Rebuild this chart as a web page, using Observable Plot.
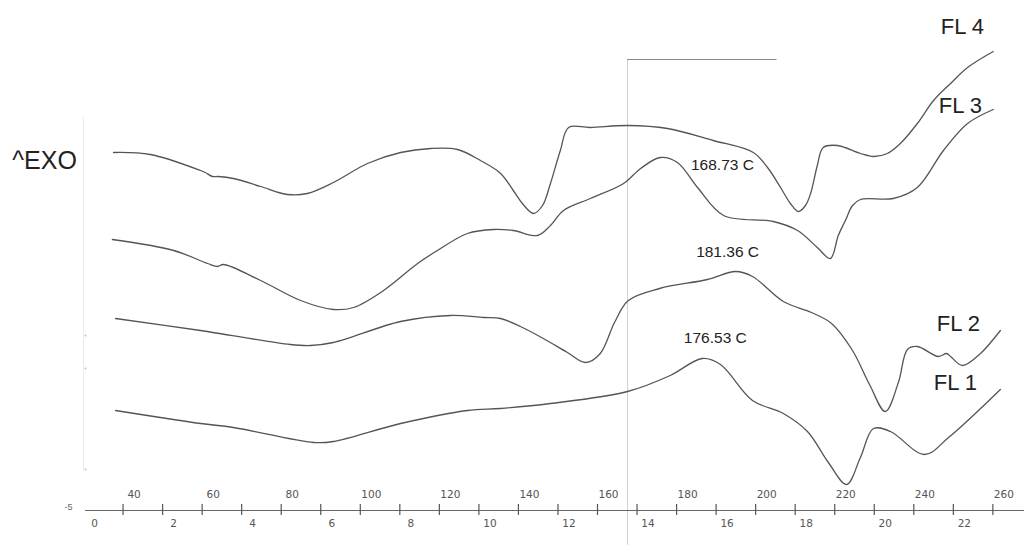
<!DOCTYPE html>
<html>
<head>
<meta charset="utf-8">
<script src="https://cdn.jsdelivr.net/npm/d3@7"></script>
<script src="https://cdn.jsdelivr.net/npm/@observablehq/plot@0.6"></script>
<style>
  html, body { margin: 0; padding: 0; background: #fff; }
  #chart svg { display: block; }
</style>
</head>
<body>
<div id="chart"></div>
<script>
// Temperature (°C) and heat flow (arbitrary units, exo up)
const fl4Temp = [37.6, 46.9, 59.6, 60.8, 62.6, 64.1, 67.9, 74.8, 81.6, 86.6, 93.2, 101.8, 110.2, 117.8, 124.6, 130.4, 135.5, 138.7, 141.0, 143.8, 146.1, 148.1, 150.6, 152.7, 158.2, 167.6, 177.7, 189.3, 199.4, 203.0, 206.3, 208.8, 210.8, 212.6, 213.9, 215.6, 217.1, 220.7, 226.5, 229.8, 233.3, 236.6, 240.9, 245.0, 249.3, 253.6, 260.1];
const fl4Flow = [39.3, 39.1, 37.5, 37.3, 36.9, 36.9, 36.7, 35.9, 35.1, 35.2, 36.3, 38.2, 39.3, 39.7, 39.6, 38.5, 37.2, 35.5, 34.2, 33.2, 34.0, 36.2, 39.5, 41.8, 41.8, 42.0, 41.7, 40.5, 39.3, 37.8, 35.8, 34.2, 33.4, 34.0, 35.2, 38.0, 39.8, 40.0, 39.2, 38.9, 39.2, 40.2, 42.2, 44.5, 46.2, 47.8, 49.4];

const fl3Temp = [37.3, 52.8, 61.4, 63.9, 65.4, 74.8, 84.9, 93.2, 98.3, 105.9, 114.5, 119.5, 127.1, 133.7, 138.7, 144.8, 148.1, 151.4, 158.2, 166.6, 170.9, 175.9, 180.2, 185.3, 191.9, 204.5, 210.6, 215.6, 218.9, 220.9, 222.7, 224.5, 226.5, 234.8, 240.9, 247.5, 253.6, 260.1];
const fl3Flow = [30.6, 29.5, 28.2, 27.9, 28.1, 26.5, 24.5, 23.6, 23.8, 25.5, 28.2, 29.5, 31.2, 31.6, 31.5, 31.0, 32.0, 33.5, 34.7, 36.2, 37.7, 38.8, 38.3, 35.8, 33.0, 32.4, 31.5, 29.8, 28.7, 31.0, 32.5, 34.0, 34.6, 34.7, 35.8, 39.5, 42.2, 43.6];

const fl2Temp = [38.1, 59.6, 82.3, 87.4, 93.2, 110.2, 122.8, 131.2, 135.5, 140.5, 146.3, 152.4, 157.0, 160.7, 164.3, 167.8, 175.7, 187.8, 194.9, 199.2, 207.0, 214.1, 219.2, 224.5, 228.8, 232.8, 236.1, 238.4, 240.9, 246.2, 248.3, 249.3, 252.3, 256.6, 261.9];
const fl2Flow = [22.7, 21.5, 20.1, 20.0, 20.3, 22.4, 23.0, 22.8, 22.7, 21.9, 20.7, 19.3, 18.3, 19.2, 22.3, 24.5, 25.7, 26.6, 27.4, 26.9, 24.4, 23.3, 22.2, 19.5, 16.1, 13.4, 16.3, 19.6, 19.9, 18.9, 19.2, 18.9, 18.0, 19.1, 21.5];

const fl1Temp = [38.1, 59.6, 67.9, 88.2, 93.2, 110.2, 127.1, 135.5, 148.1, 167.6, 178.4, 186.5, 191.1, 199.2, 207.0, 213.1, 218.4, 223.0, 226.5, 229.8, 234.1, 242.7, 248.8, 261.9];
const fl1Flow = [13.5, 12.2, 11.8, 10.3, 10.4, 12.2, 13.5, 13.7, 14.2, 15.4, 17.0, 18.7, 18.1, 14.5, 13.2, 11.4, 8.3, 6.1, 8.8, 11.7, 11.4, 9.1, 10.8, 15.6];

const seriesNames = ["FL 4", "FL 3", "FL 2", "FL 1"];
const seriesLabelTemp = [252.3, 251.8, 251.3, 250.5];
const seriesLabelFlow = [51.9, 44.0, 22.2, 16.3];

const peakLabels = ["168.73 C", "181.36 C", "176.53 C"];
const peakLabelTemp = [191.6, 192.9, 189.8];
const peakLabelFlow = [38.0, 29.3, 20.7];

const tempTicks = [40, 50, 60, 70, 80, 90, 100, 110, 120, 130, 140, 150, 160, 170, 180, 190, 200, 210, 220, 230, 240, 250, 260];
const tempLabels = [40, 60, 80, 100, 120, 140, 160, 180, 200, 220, 240, 260];
const timeLabels = [0, 2, 4, 6, 8, 10, 12, 14, 16, 18, 20, 22]; // minutes
const heatingRate = 10; // °C per minute
const startTemp = 30;   // °C at time 0

const axisFlow = 3.5;
const markerTemp = 167.6;
const markerEndTemp = 205.4;
const markerFlow = 48.6;
const leftDots = [21.0, 17.7, 7.6];

// Build tables
const curves = [
  [fl4Temp, fl4Flow, "FL 4"],
  [fl3Temp, fl3Flow, "FL 3"],
  [fl2Temp, fl2Flow, "FL 2"],
  [fl1Temp, fl1Flow, "FL 1"]
].flatMap(([t, f, name]) => t.map((v, i) => ({temp: v, flow: f[i], series: name})));

const seriesLabelRows = seriesNames.map((n, i) => ({name: n, temp: seriesLabelTemp[i], flow: seriesLabelFlow[i]}));
const peakRows = peakLabels.map((n, i) => ({name: n, temp: peakLabelTemp[i], flow: peakLabelFlow[i]}));
const timeRows = timeLabels.map(m => ({m, temp: startTemp + heatingRate * m}));

const font = "'Liberation Sans', Arial, sans-serif";

const chart = Plot.plot({
  width: 1024,
  height: 545,
  marginLeft: 0, marginRight: 0, marginTop: 0, marginBottom: 0,
  x: {domain: [9, 268], axis: null},
  y: {domain: [0, 54.5], axis: null},
  style: {fontFamily: font, background: "#fff"},
  marks: [
    // faint guide lines
    Plot.ruleX([startTemp], {y1: 7.5, y2: 42.8, stroke: "#ececec", strokeWidth: 1}),
    Plot.ruleX([markerTemp], {y1: 0, y2: markerFlow, stroke: "#d0d0d0", strokeWidth: 1}),
    Plot.ruleY([markerFlow], {x1: markerTemp, x2: markerEndTemp, stroke: "#888", strokeWidth: 1.2}),
    // curves
    Plot.line(curves, {x: "temp", y: "flow", z: "series", stroke: "#555", strokeWidth: 1.3, curve: "catmull-rom"}),
    // labels
    Plot.text(["^EXO"], {x: 12, y: 38.5, text: d => d, textAnchor: "start", fontSize: 25, fill: "#222"}),
    Plot.text(seriesLabelRows, {x: "temp", y: "flow", text: "name", fontSize: 22, fill: "#222", textAnchor: "middle"}),
    Plot.text(peakRows, {x: "temp", y: "flow", text: "name", fontSize: 15.5, fill: "#222"}),
    // time / temperature axis
    Plot.ruleY([axisFlow], {x1: startTemp + 0.5, x2: 268, stroke: "#666", strokeWidth: 1}),
    Plot.ruleX(tempTicks, {y1: axisFlow - 0.5, y2: axisFlow + 0.6, stroke: "#555", strokeWidth: 1.2}),
    Plot.text(tempLabels, {x: d => d, y: 5.1, dx: 11, text: d => String(d), fontSize: 10.5, fill: "#555", fontFamily: "'DejaVu Sans', sans-serif"}),
    Plot.text(timeRows, {x: "temp", y: 2.2, dx: 11, text: d => String(d.m), fontSize: 10.5, fill: "#555", fontFamily: "'DejaVu Sans', sans-serif"}),
    Plot.text(["-5"], {x: 26.2, y: 3.8, text: d => d, fontSize: 9, fill: "#666"}),
    Plot.dot(leftDots, {x: 30.5, y: d => d, r: 0.9, fill: "#bbb"})
  ]
});
document.getElementById("chart").appendChild(chart);
</script>
</body>
</html>
